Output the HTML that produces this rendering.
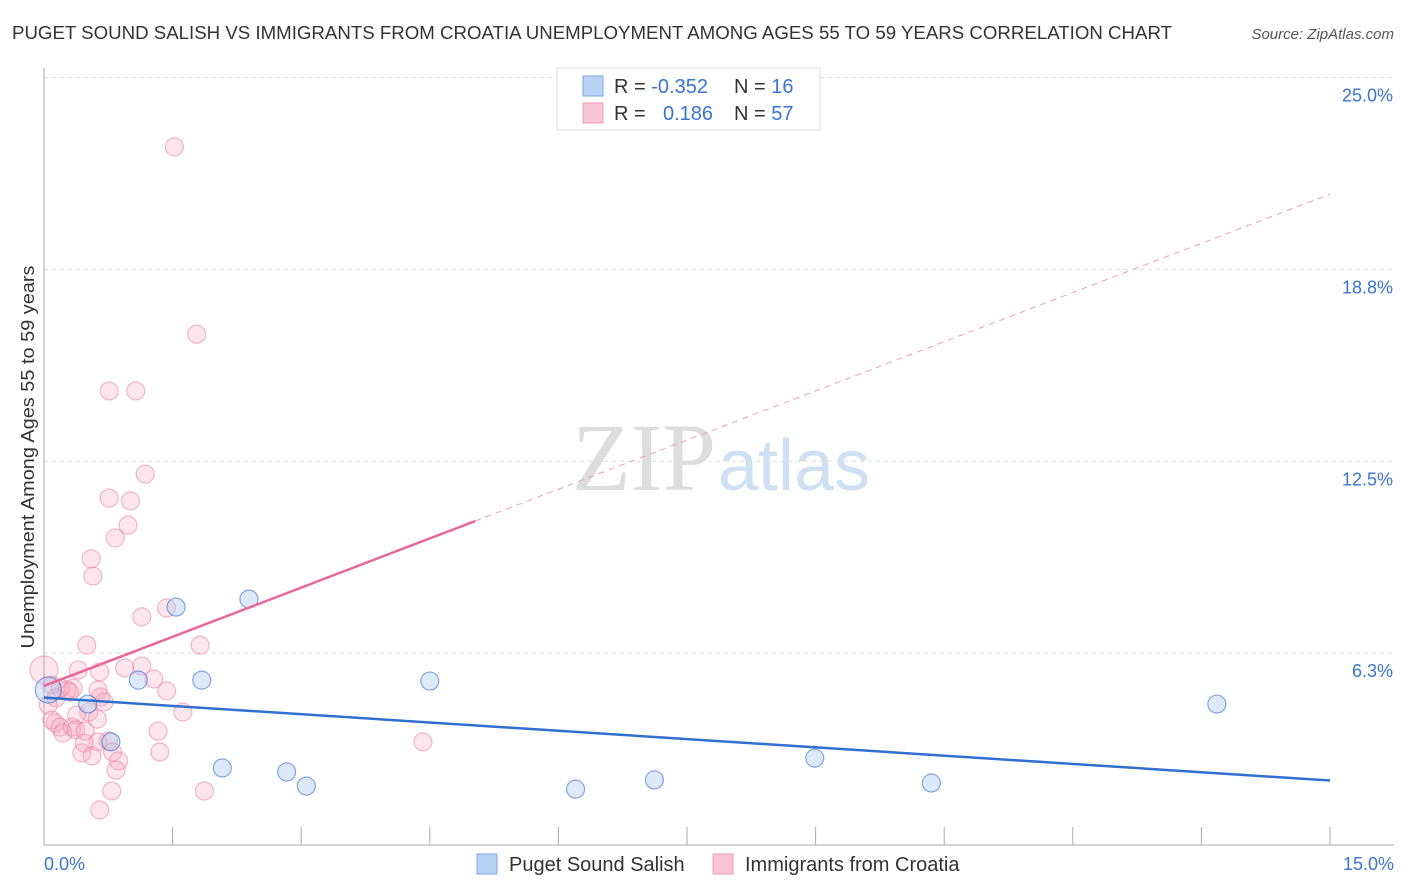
<!DOCTYPE html>
<html><head><meta charset="utf-8"><style>
body{margin:0;background:#fff;font-family:"Liberation Sans",sans-serif;}
svg{display:block}
</style></head><body>
<svg id="chart" width="1406" height="892">
<text x="12" y="39" font-size="18.5" fill="#333" textLength="1160" lengthAdjust="spacingAndGlyphs">PUGET SOUND SALISH VS IMMIGRANTS FROM CROATIA UNEMPLOYMENT AMONG AGES 55 TO 59 YEARS CORRELATION CHART</text>
<text x="1394" y="39" font-size="15" fill="#555" font-style="italic" text-anchor="end">Source: ZipAtlas.com</text>
<text x="0" y="0" transform="translate(34,457) rotate(-90)" font-size="18.5" fill="#333" text-anchor="middle" textLength="383" lengthAdjust="spacingAndGlyphs">Unemployment Among Ages 55 to 59 years</text>
<text x="716" y="490" font-size="96" fill="#ddd" font-family="Liberation Serif,serif" text-anchor="end">ZIP</text>
<text x="718" y="490" font-size="72" fill="#cfe0f3">atlas</text>
<g id="grid"></g><g id="axes"></g><g id="pts"></g><g id="lines"></g>
<g>
<rect x="557" y="68" width="263" height="62" fill="#fff" stroke="#ddd"/>
<rect x="583" y="76" width="20" height="20" fill="#b9d3f5" stroke="#7aa6e6"/>
<rect x="583" y="103" width="20" height="20" fill="#f9c4d3" stroke="#ee9ab3"/>
<text x="614" y="93" font-size="20" fill="#333">R = <tspan fill="#3a74d0">-0.352</tspan><tspan x="734">N = </tspan><tspan fill="#3a74d0">16</tspan></text>
<text x="614" y="120" font-size="20" fill="#333">R = <tspan x="663" fill="#3a74d0">0.186</tspan><tspan x="734">N = </tspan><tspan fill="#3a74d0">57</tspan></text>
</g>
<g>
<rect x="477" y="854" width="20" height="20" fill="#b9d3f5" stroke="#7aa6e6"/>
<text x="509" y="871" font-size="20" fill="#333">Puget Sound Salish</text>
<rect x="713" y="854" width="20" height="20" fill="#f9c4d3" stroke="#ee9ab3"/>
<text x="745" y="871" font-size="20" fill="#333">Immigrants from Croatia</text>
</g>
</svg>
<script>
const xTickLabels=["0.0%","15.0%"];
const yTickValues=[6.25,12.5,18.75,25];
const yTickLabels=["6.3%","12.5%","18.8%","25.0%"];
const blueX=[0.05,0.51,0.78,1.10,1.54,1.84,2.08,2.39,2.83,3.06,4.50,6.20,7.12,8.99,10.35,13.68];
const blueY=[5.05,4.59,3.36,5.37,7.75,5.37,2.51,8.01,2.38,1.92,5.34,1.82,2.12,2.83,2.02,4.59];
const pinkX=[1.52,1.78,0.76,1.07,1.18,0.76,1.01,0.98,0.83,0.55,0.57,1.43,1.14,0.50,1.82,0.94,1.14,1.28,1.43,0.65,0.40,0,0.09,0.19,0.27,0.34,0.63,0.30,0.14,0.66,0.70,0.05,0.52,1.62,0.38,0.62,0.09,0.19,0.13,0.33,0.22,0.37,0.48,1.33,0.63,0.75,0.47,4.42,0.44,0.80,1.35,0.56,0.87,0.84,0.79,1.87,0.65];
const pinkY=[22.74,16.64,14.79,14.79,12.08,11.30,11.21,10.42,10.0,9.32,8.76,7.72,7.43,6.51,6.51,5.77,5.83,5.41,5.02,5.64,5.70,5.70,5.21,5.11,5.05,5.11,5.05,4.98,4.79,4.82,4.66,4.56,4.33,4.33,4.23,4.10,4.07,3.84,3.97,3.84,3.65,3.75,3.71,3.71,3.36,3.39,3.32,3.36,3.0,3.03,3.03,2.90,2.74,2.44,1.76,1.76,1.14];
const blueTrend=[4.8,2.1];
const pinkTrend=[5.18,21.2];
const pinkSolidEnd=5.03;
const X=v=>44+v/15*1286, Y=v=>845-v*30.7;
const NS="http://www.w3.org/2000/svg";
function mk(p,t,a){const e=document.createElementNS(NS,t);for(const k in a)e.setAttribute(k,a[k]);document.getElementById(p).appendChild(e);return e;}
yTickValues.forEach((v,i)=>{
 const l=mk('grid','line',{x1:44,x2:1394,y1:Y(v),y2:Y(v),stroke:'#ddd','stroke-dasharray':'4,4'});
 
 
 const t=mk('grid','text',{x:1393,y:Y(v)+24,'font-size':18,fill:'#3a74d0','text-anchor':'end'});t.textContent=yTickLabels[i];
 
 
});
mk('axes','line',{x1:44,x2:44,y1:68,y2:845,stroke:'#aaa'});
mk('axes','line',{x1:44,x2:1394,y1:845,y2:845,stroke:'#aaa'});
for(let i=1;i<=10;i++){const x=44+i*128.6;mk('axes','line',{x1:x,x2:x,y1:827,y2:845,stroke:'#aaa'});}
[[0,44,'start'],[1,1394,'end']].forEach(([i,x,a])=>{const t=mk('axes','text',{x:x,y:870,'font-size':18,fill:'#3a74d0','text-anchor':a});t.textContent=xTickLabels[i];
 
 });
pinkX.forEach((x,i)=>{const big=(x===0);const c=mk('pts','circle',{cx:X(x),cy:Y(pinkY[i]),r:big?14:9,fill:'rgba(246,160,186,0.28)',stroke:'rgba(232,120,155,0.5)','stroke-width':1.2});
 
 });
blueX.forEach((x,i)=>{const c=mk('pts','circle',{cx:X(x),cy:Y(blueY[i]),r:i===0?13:9,fill:'rgba(170,200,240,0.4)',stroke:'rgba(70,120,210,0.65)','stroke-width':1.2});
 
 });
const bl=mk('lines','line',{x1:X(0),y1:Y(blueTrend[0]),x2:X(15),y2:Y(blueTrend[1]),stroke:'#2f6fd0','stroke-width':2.5});


const py=v=>pinkTrend[0]+(pinkTrend[1]-pinkTrend[0])*v/15;
const ps=mk('lines','line',{x1:X(0),y1:Y(py(0)),x2:X(pinkSolidEnd),y2:Y(py(pinkSolidEnd)),stroke:'#e8679a','stroke-width':2.5});


const pd=mk('lines','line',{x1:X(pinkSolidEnd),y1:Y(py(pinkSolidEnd)),x2:X(15),y2:Y(py(15)),stroke:'#e8a0b8','stroke-width':1,'stroke-dasharray':'6,5'});


</script>
</body></html>
